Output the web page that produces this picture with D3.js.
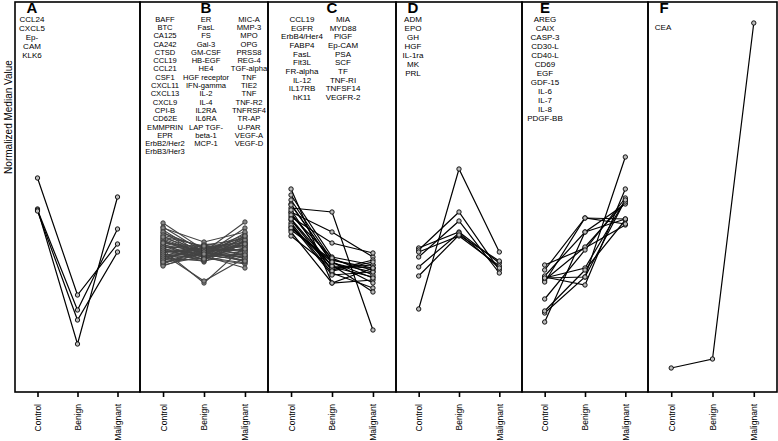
<!DOCTYPE html>
<html>
<head>
<meta charset="utf-8">
<script src="https://cdn.jsdelivr.net/npm/d3@7"></script>
<style>
  body { margin: 0; background: #fff; }
  svg { font-family: "Liberation Sans", Arial, sans-serif; }
</style>
</head>
<body>
<div id="chart"></div>
<script>
// groups on every panel's x axis
const groups = ['Control', 'Benign', 'Malignant'];
const panelLetters = ['A', 'B', 'C', 'D', 'E', 'F'];

// panel A
const namesA = ['CCL24', 'CXCL5', 'Ep-CAM', 'KLK6'];
const valuesA = [[2.14, 0.97, 1.48], [1.83, 0.48, 1.95], [1.82, 0.82, 1.63], [1.81, 0.72, 1.40]];
const labelsA = [['CCL24', 'CXCL5', 'Ep-', 'CAM', 'KLK6']];

// panel B
const namesB = ['BAFF', 'BTC', 'CA125', 'CA242', 'CTSD', 'CCL19', 'CCL21', 'CSF1', 'CXCL11', 'CXCL13',
  'CXCL9', 'CPI-B', 'CD62E', 'EMMPRIN', 'EPR', 'ErbB2/Her2', 'ErbB3/Her3',
  'ER', 'FasL', 'FS', 'Gal-3', 'GM-CSF', 'HB-EGF', 'HE4', 'HGF receptor', 'IFN-gamma', 'IL-2', 'IL-4',
  'IL2RA', 'IL6RA', 'LAP TGF-beta-1', 'MCP-1',
  'MIC-A', 'MMP-3', 'MPO', 'OPG', 'PRSS8', 'REG-4', 'TGF-alpha', 'TNF', 'TIE2', 'TNF', 'TNF-R2',
  'TNFRSF4', 'TR-AP', 'U-PAR', 'VEGF-A', 'VEGF-D'];
const valuesB = [
  [1.69, 1.42, 1.52], [1.65, 1.40, 1.70], [1.62, 1.37, 1.64], [1.59, 1.44, 1.47], [1.56, 1.36, 1.59],
  [1.54, 1.42, 1.42], [1.52, 1.34, 1.54], [1.51, 1.39, 1.37], [1.49, 1.45, 1.49], [1.48, 1.32, 1.56],
  [1.47, 1.40, 1.34], [1.46, 1.36, 1.44], [1.45, 1.43, 1.31], [1.44, 1.30, 1.51], [1.43, 1.38, 1.40],
  [1.42, 1.09, 1.46], [1.41, 1.35, 1.29],
  [1.40, 1.42, 1.57], [1.39, 1.46, 1.36], [1.38, 1.33, 1.48], [1.37, 1.41, 1.43], [1.36, 1.47, 1.53],
  [1.35, 1.37, 1.32], [1.34, 1.31, 1.39], [1.33, 1.44, 1.50], [1.32, 1.39, 1.35], [1.31, 1.48, 1.45],
  [1.30, 1.34, 1.28], [1.29, 1.41, 1.55], [1.28, 1.43, 1.42], [1.27, 1.36, 1.24], [1.26, 1.40, 1.47],
  [1.64, 1.50, 1.60], [1.60, 1.35, 1.38], [1.57, 1.45, 1.33], [1.53, 1.38, 1.49], [1.50, 1.42, 1.30],
  [1.46, 1.32, 1.52], [1.44, 1.47, 1.41], [1.42, 1.37, 1.36], [1.40, 1.43, 1.45], [1.38, 1.11, 1.34],
  [1.36, 1.39, 1.56], [1.34, 1.45, 1.40], [1.32, 1.33, 1.48], [1.49, 1.40, 1.43], [1.55, 1.46, 1.37],
  [1.30, 1.38, 1.31]];
const labelsB = [
  ['BAFF', 'BTC', 'CA125', 'CA242', 'CTSD', 'CCL19', 'CCL21', 'CSF1', 'CXCL11', 'CXCL13', 'CXCL9',
    'CPI-B', 'CD62E', 'EMMPRIN', 'EPR', 'ErbB2/Her2', 'ErbB3/Her3'],
  ['ER', 'FasL', 'FS', 'Gal-3', 'GM-CSF', 'HB-EGF', 'HE4', 'HGF receptor', 'IFN-gamma', 'IL-2', 'IL-4',
    'IL2RA', 'IL6RA', 'LAP TGF-', 'beta-1', 'MCP-1'],
  ['MIC-A', 'MMP-3', 'MPO', 'OPG', 'PRSS8', 'REG-4', 'TGF-alpha', 'TNF', 'TIE2', 'TNF', 'TNF-R2',
    'TNFRSF4', 'TR-AP', 'U-PAR', 'VEGF-A', 'VEGF-D']];

// panel C
const namesC = ['CCL19', 'EGFR', 'ErbB4/Her4', 'FABP4', 'FasL', 'Flt3L', 'FR-alpha', 'IL-12', 'IL17RB', 'hK11',
  'MIA', 'MYD88', 'PlGF', 'Ep-CAM', 'PSA', 'SCF', 'TF', 'TNF-RI', 'TNFSF14', 'VEGFR-2'];
const valuesC = [
  [2.03, 1.09, 1.12], [1.97, 1.35, 1.27], [1.92, 1.32, 1.24], [1.88, 1.29, 1.20], [1.84, 1.80, 0.62],
  [1.80, 1.60, 1.35], [1.79, 1.25, 1.15], [1.75, 1.49, 1.39], [1.72, 1.22, 1.32], [1.69, 1.19, 1.04],
  [1.65, 1.27, 1.00], [1.62, 1.32, 1.22], [1.56, 1.24, 1.27], [1.87, 1.30, 1.09], [1.82, 1.21, 1.30],
  [1.77, 1.34, 1.17], [1.73, 1.26, 1.24], [1.67, 1.17, 1.20], [1.64, 1.30, 1.14], [1.60, 1.09, 1.24]];
const labelsC = [
  ['CCL19', 'EGFR', 'ErbB4/Her4', 'FABP4', 'FasL', 'Flt3L', 'FR-alpha', 'IL-12', 'IL17RB', 'hK11'],
  ['MIA', 'MYD88', 'PlGF', 'Ep-CAM', 'PSA', 'SCF', 'TF', 'TNF-RI', 'TNFSF14', 'VEGFR-2']];

// panel D
const namesD = ['ADM', 'EPO', 'GH', 'HGF', 'IL-1ra', 'MK', 'PRL'];
const valuesD = [[1.44, 1.60, 1.29], [1.42, 1.80, 1.22], [1.40, 1.56, 1.26], [1.35, 1.71, 1.19],
  [1.25, 1.59, 1.24], [1.16, 1.57, 1.31], [0.83, 2.23, 1.40]];
const labelsD = [namesD];

// panel E
const namesE = ['AREG', 'CAIX', 'CASP-3', 'CD30-L', 'CD40-L', 'CD69', 'EGF', 'GDF-15', 'IL-6', 'IL-7', 'IL-8', 'PDGF-BB'];
const valuesE = [[1.22, 1.74, 1.73], [0.70, 1.60, 1.88], [1.27, 1.44, 1.67], [1.15, 1.07, 2.03],
  [1.14, 1.24, 1.92], [1.12, 1.45, 1.90], [0.79, 1.15, 2.35], [0.93, 1.42, 1.94], [0.81, 1.22, 1.72],
  [1.16, 1.60, 1.73], [1.10, 1.74, 1.68], [1.14, 1.15, 1.92]];
const labelsE = [namesE];

// panel F
const namesF = ['CEA'];
const valuesF = [[0.24, 0.33, 3.69]];
const labelsF = [namesF];

const panels = [
  { names: namesA, values: valuesA, labels: labelsA },
  { names: namesB, values: valuesB, labels: labelsB },
  { names: namesC, values: valuesC, labels: labelsC },
  { names: namesD, values: valuesD, labels: labelsD },
  { names: namesE, values: valuesE, labels: labelsE },
  { names: namesF, values: valuesF, labels: labelsF },
];

const width = 778;
const height = 441;
const margin = { top: 2, right: 1, bottom: 49, left: 15 };
const bounds = [15, 140, 268, 396, 522, 648, 777];

const svg = d3.select('#chart').append('svg')
  .attr('width', width)
  .attr('height', height);

const yScale = d3.scaleLinear()
  .domain([0, 3.9])
  .range([height - margin.bottom, margin.top]);

// per-panel layout of the protein list
const labelLayout = [
  { xs: [32], y0: 19, step: 9, letterX: 32, size: 8 },
  { xs: [165, 206, 249], y0: 19, step: 8.3, letterX: 206, size: 7.6 },
  { xs: [302, 343], y0: 19, step: 8.7, letterX: 332, size: 8 },
  { xs: [413], y0: 19, step: 9, letterX: 413, size: 8 },
  { xs: [545], y0: 19, step: 9, letterX: 545, size: 8 },
  { xs: [663], y0: 27, step: 9, letterX: 664, size: 8 },
];

panels.forEach((p, i) => {
  const x0 = bounds[i];
  const x1 = bounds[i + 1];
  const xScale = d3.scalePoint()
    .domain(groups)
    .range([x0, x1])
    .padding(0.5625);

  const g = svg.append('g').attr('class', 'panel');
  const isB = i === 1;

  g.append('rect')
    .attr('x', x0)
    .attr('y', yScale.range()[1])
    .attr('width', x1 - x0)
    .attr('height', yScale.range()[0] - yScale.range()[1])
    .attr('fill', 'none')
    .attr('stroke', '#000')
    .attr('stroke-width', 1.6);

  // x axis
  const xAxis = d3.axisBottom(xScale).tickSize(5).tickSizeOuter(0);
  const ax = g.append('g')
    .attr('transform', `translate(0, ${yScale.range()[0]})`)
    .call(xAxis);
  ax.select('.domain').remove();
  ax.selectAll('line').attr('stroke', '#000').attr('stroke-width', 1.6);
  ax.selectAll('text')
    .attr('font-size', 8.5)
    .attr('fill', '#000')
    .attr('transform', 'rotate(-90)')
    .attr('x', -12)
    .attr('y', 0)
    .attr('dy', '0.35em')
    .style('text-anchor', 'end');

  // letter and protein lists
  const lay = labelLayout[i];
  g.append('text')
    .attr('x', lay.letterX)
    .attr('y', 13)
    .attr('text-anchor', 'middle')
    .attr('font-size', 15)
    .attr('font-weight', 'bold')
    .text(panelLetters[i]);

  p.labels.forEach((col, c) => {
    g.selectAll(null)
      .data(col)
      .enter().append('text')
      .attr('x', lay.xs[c])
      .attr('y', (d, k) => lay.y0 + k * lay.step)
      .attr('dy', '0.35em')
      .attr('text-anchor', 'middle')
      .attr('font-size', lay.size)
      .text(d => d);
  });

  const line = d3.line()
    .x((d, k) => xScale(groups[k]))
    .y(d => yScale(d));

  const series = p.values.map((v, k) => ({ name: p.names[k], values: v }));

  g.selectAll('.series-line')
    .data(series)
    .enter().append('path')
    .attr('class', 'series-line')
    .attr('d', d => line(d.values))
    .attr('fill', 'none')
    .attr('stroke', isB ? '#444' : '#000')
    .attr('stroke-width', isB ? 1.1 : 1.2);

  series.forEach((s) => {
    g.selectAll(null)
      .data(s.values)
      .enter().append('circle')
      .attr('cx', (d, k) => xScale(groups[k]))
      .attr('cy', d => yScale(d))
      .attr('r', 2.2)
      .attr('fill', isB ? '#888' : '#bbb')
      .attr('stroke', isB ? '#333' : '#000')
      .attr('stroke-width', 0.9);
  });
});

// y axis title
svg.append('text')
  .attr('transform', 'translate(8, 117) rotate(-90)')
  .attr('text-anchor', 'middle')
  .attr('dy', '0.35em')
  .attr('font-size', 10)
  .text('Normalized Median Value');
</script>
</body>
</html>
